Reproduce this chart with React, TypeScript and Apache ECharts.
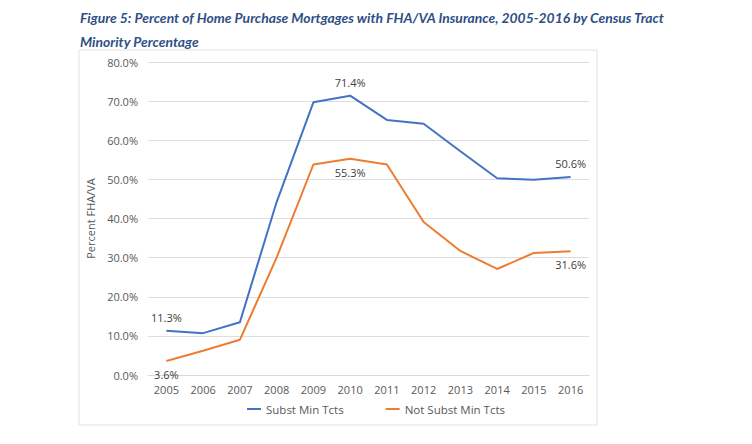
import React, { useEffect, useRef } from "react";
import * as echarts from "echarts";

const years = ["2005", "2006", "2007", "2008", "2009", "2010", "2011", "2012", "2013", "2014", "2015", "2016"];
const substMin = [11.3, 10.7, 13.5, 44.2, 69.7, 71.4, 65.2, 64.2, 57.2, 50.3, 49.9, 50.6];
const notSubstMin = [3.6, 6.2, 9.0, 30.0, 53.8, 55.3, 53.8, 39.1, 31.7, 27.1, 31.2, 31.6];
const yTicks = [0, 10, 20, 30, 40, 50, 60, 70, 80];
const labelledIdx = [0, 5, 11];

export default function App() {
  const ref = useRef<HTMLDivElement>(null);
  useEffect(() => {
    const chart = echarts.init(ref.current!, null, { renderer: "svg" });
    const mk = (vals: number[], pos: string) =>
      vals.map((v, i) =>
        labelledIdx.includes(i)
          ? {
              value: v,
              label: {
                show: true,
                position: pos,
                distance: 8,
                formatter: v.toFixed(1) + "%",
                color: "#404040",
                fontSize: 11,
                fontFamily: "Open Sans",
              },
            }
          : v
      );
    chart.setOption({
      animation: false,
      backgroundColor: "#ffffff",
      graphic: [
        {
          type: "rect",
          shape: { x: 79, y: 50, width: 518, height: 375 },
          style: { fill: "none", stroke: "#e3e3e3", lineWidth: 1 },
          silent: true,
        },
        {
          type: "text",
          left: 80,
          top: 5,
          style: {
            text: "Figure 5: Percent of Home Purchase Mortgages with FHA/VA Insurance, 2005-2016 by Census Tract\nMinority Percentage",
            fill: "#2e4f86",
            fontStyle: "italic",
            fontWeight: "bold",
            fontSize: 13.9,
            fontFamily: "Lato",
            lineHeight: 24,
          },
        },
      ],
      grid: { left: 148, right: 163, top: 62, bottom: 69, containLabel: false },
      legend: {
        bottom: 24,
        left: "center",
        itemGap: 42,
        itemWidth: 14,
        itemHeight: 2,
        icon: "rect",
        textStyle: { color: "#595959", fontSize: 11.5, fontFamily: "Open Sans" },
        data: ["Subst Min Tcts", "Not Subst Min Tcts"],
      },
      xAxis: {
        type: "category",
        data: years,
        boundaryGap: true,
        axisLine: { lineStyle: { color: "#d9d9d9" } },
        axisTick: { show: false },
        axisLabel: { color: "#595959", fontSize: 11, fontFamily: "Open Sans", margin: 9 },
      },
      yAxis: {
        type: "value",
        min: yTicks[0],
        max: yTicks[yTicks.length - 1],
        interval: 10,
        name: "Percent FHA/VA",
        nameLocation: "middle",
        nameGap: 50,
        nameRotate: 90,
        nameTextStyle: { color: "#595959", fontSize: 11, fontFamily: "Open Sans" },
        axisLine: { show: false },
        axisTick: { show: false },
        splitLine: { lineStyle: { color: "#dedede" } },
        axisLabel: {
          color: "#595959",
          fontSize: 11,
          fontFamily: "Open Sans",
          margin: 10,
          formatter: (v: number) => v.toFixed(1) + "%",
        },
      },
      series: [
        {
          name: "Subst Min Tcts",
          type: "line",
          data: mk(substMin, "top"),
          symbol: "circle",
          symbolSize: 0,
          showSymbol: true,
          lineStyle: { color: "#4472c4", width: 2 },
          itemStyle: { color: "#4472c4" },
        },
        {
          name: "Not Subst Min Tcts",
          type: "line",
          data: mk(notSubstMin, "bottom"),
          symbol: "circle",
          symbolSize: 0,
          showSymbol: true,
          lineStyle: { color: "#ed7d31", width: 2 },
          itemStyle: { color: "#ed7d31" },
        },
      ],
    });
    return () => chart.dispose();
  }, []);
  return <div ref={ref} style={{ position: "fixed", left: 0, top: 0, width: 752, height: 444 }} />;
}
